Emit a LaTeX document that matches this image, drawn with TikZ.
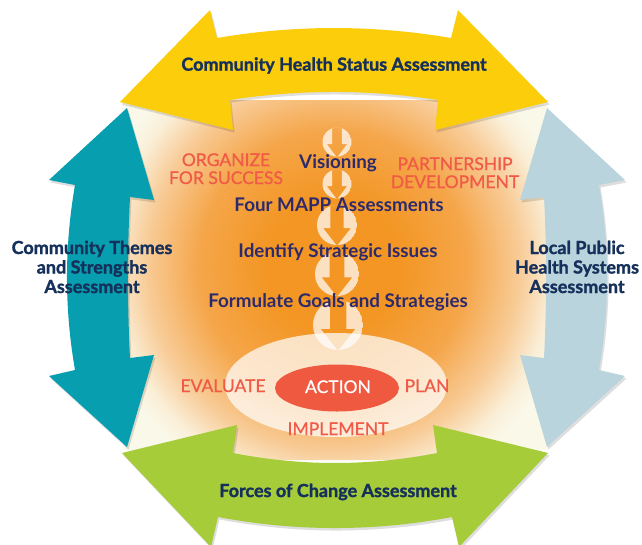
\documentclass[tikz,border=0pt]{standalone}
\usepackage{fontspec}
\setmainfont{Lato}
\newfontfamily\latoheavy{Lato}[FakeBold=1.4]
\newfontfamily\latomed{Lato}[FakeBold=0.7]
\usetikzlibrary{shapes.geometric}
\definecolor{cCream}{HTML}{FAF8E9}
\definecolor{cYel}{HTML}{FCCD0B}
\definecolor{cTeal}{HTML}{079EB0}
\definecolor{cSky}{HTML}{B9D4DC}
\definecolor{cGreen}{HTML}{A6CC3A}
\definecolor{cNavy}{HTML}{15305A}
\definecolor{cIndigo}{HTML}{2D2A6C}
\definecolor{cRed}{HTML}{F05A46}
\definecolor{cAct}{HTML}{EF5940}
\definecolor{gA}{HTML}{F39624}
\definecolor{gB}{HTML}{F5A64A}
\definecolor{gC}{HTML}{F8CC98}
\definecolor{gD}{HTML}{FAEFD8}
\pgfdeclareradialshading{glow}{\pgfpoint{0bp}{0bp}}{color(0bp)=(gA); color(7bp)=(gA); color(14bp)=(gB); color(19.5bp)=(gC); color(23bp)=(gD); color(25bp)=(cCream); color(50bp)=(cCream)}
\newcommand\mappicon[3]{%
  \begin{scope}
    \clip (#1,#2) circle[radius=#3pt];
    \fill[white,opacity=.72,even odd rule] (#1,#2) circle[radius=#3pt]
      ({#1-0.33*#3},{#2-#3-2}) -- ({#1+0.33*#3},{#2-#3-2}) -- ({#1+0.33*#3},{#2+0.15*#3})
      -- ({#1+0.7*#3},{#2+0.15*#3}) -- (#1,{#2+#3+1}) -- ({#1-0.7*#3},{#2+0.15*#3})
      -- ({#1-0.33*#3},{#2+0.15*#3}) -- cycle;
  \end{scope}}
\begin{document}
\begin{tikzpicture}[x=1pt,y=-1pt,
  bigarrow/.style={preaction={fill=black,opacity=.13,transform canvas={shift={(1.5pt,-2.5pt)}}}},
  navylab/.style={text=cNavy,font=\latoheavy\bfseries\fontsize{18}{19.5}\selectfont,inner sep=0pt,align=center,anchor=base},
  steplab/.style={text=cIndigo,font=\bfseries\fontsize{18.8}{20}\selectfont,inner sep=0pt,anchor=base},
  redlab/.style={text=cRed,font=\latomed\fontsize{17.5}{18}\selectfont,inner sep=0pt,align=center,anchor=base},
]
\useasboundingbox (0,0) rectangle (642,544);
\clip (0,0) rectangle (642,544);
\fill[white] (0,0) rectangle (642,544);
% cream field with orange glow
\begin{scope}
  \clip (123,105) -- (233,100) -- (435,100) -- (547,105) -- (560,200) -- (560,355)
        -- (547,450) -- (437,460) -- (233,460) -- (124,450) -- (110,355) -- (110,200) -- cycle;
  \fill[cCream] (0,0) rectangle (642,544);
  \shade[shading=glow] (333,265) circle[radius=240pt];
\end{scope}
% top arrow
\fill[cYel,bigarrow] (120,102) -- (210,10) -- (217,38) .. controls (295,24.7) and (373,24.7) .. (451,38)
  -- (458,10) -- (548,102) -- (435,130) -- (438,100) .. controls (368.3,89.3) and (299.3,89.3) .. (230,100)
  -- (233,130) -- cycle;
% bottom arrow
\fill[cGreen,bigarrow] (122,453) -- (237,425) -- (233,453) .. controls (301,466.3) and (369,466.3) .. (437,453)
  -- (433,425) -- (548,453) -- (459,547) -- (452,517) .. controls (374,531.7) and (296,531.7) .. (218,517)
  -- (211,547) -- cycle;
% left arrow
\fill[cTeal,bigarrow] (127,108) -- (154,200) -- (130,197) .. controls (127.3,250.7) and (127.3,304.3) .. (130,358)
  -- (154,355) -- (127,447) -- (49,376) -- (75,370) .. controls (64.3,308.3) and (64.3,246.7) .. (75,185)
  -- (49,180) -- cycle;
% right arrow
\fill[cSky,bigarrow] (547,108) -- (520,200) -- (544,197) .. controls (546.7,250.7) and (546.7,304.3) .. (544,358)
  -- (520,355) -- (547,447) -- (625,376) -- (599,370) .. controls (609.7,308.3) and (609.7,246.7) .. (599,185)
  -- (625,180) -- cycle;
% action field
\fill[white,opacity=.72] (336,385) ellipse[x radius=111pt,y radius=52pt];
\mappicon{337}{142}{14.5}
\mappicon{337}{184}{14.5}
\mappicon{337}{225}{20}
\mappicon{337}{274}{22}
\mappicon{338}{325}{25}
\node[fill=cAct,ellipse,minimum width=124pt,minimum height=47pt,inner sep=0pt] (actov) at (337,388) {};
% labels
\node[navylab] (chsa) at (334,70.7) {Community Health Status Assessment};
\node[navylab] (foca) at (338,497) {Forces of Change Assessment};
\node[navylab] (ctsa) at (92,293) {Community Themes\\and Strengths\\Assessment};
\node[navylab] (lphs) at (577,293) {Local Public\\Health Systems\\Assessment};
\node[steplab] (vis) at (338,168) {Visioning};
\node[steplab] (four) at (339,211) {Four MAPP Assessments};
\node[steplab] (iden) at (338,257) {Identify Strategic Issues};
\node[steplab] (form) at (338,307) {Formulate Goals and Strategies};
\node[redlab] (org) at (226,184) {ORGANIZE\\FOR SUCCESS};
\node[redlab] (part) at (455,188) {PARTNERSHIP\\DEVELOPMENT};
\node[redlab] (eval) at (223,392) {EVALUATE};
\node[redlab] (plan) at (427,392) {PLAN};
\node[redlab] (impl) at (338,435) {IMPLEMENT};
\node[redlab,text=white] (act) at (338,393) {ACTION};
\end{tikzpicture}
\end{document}
